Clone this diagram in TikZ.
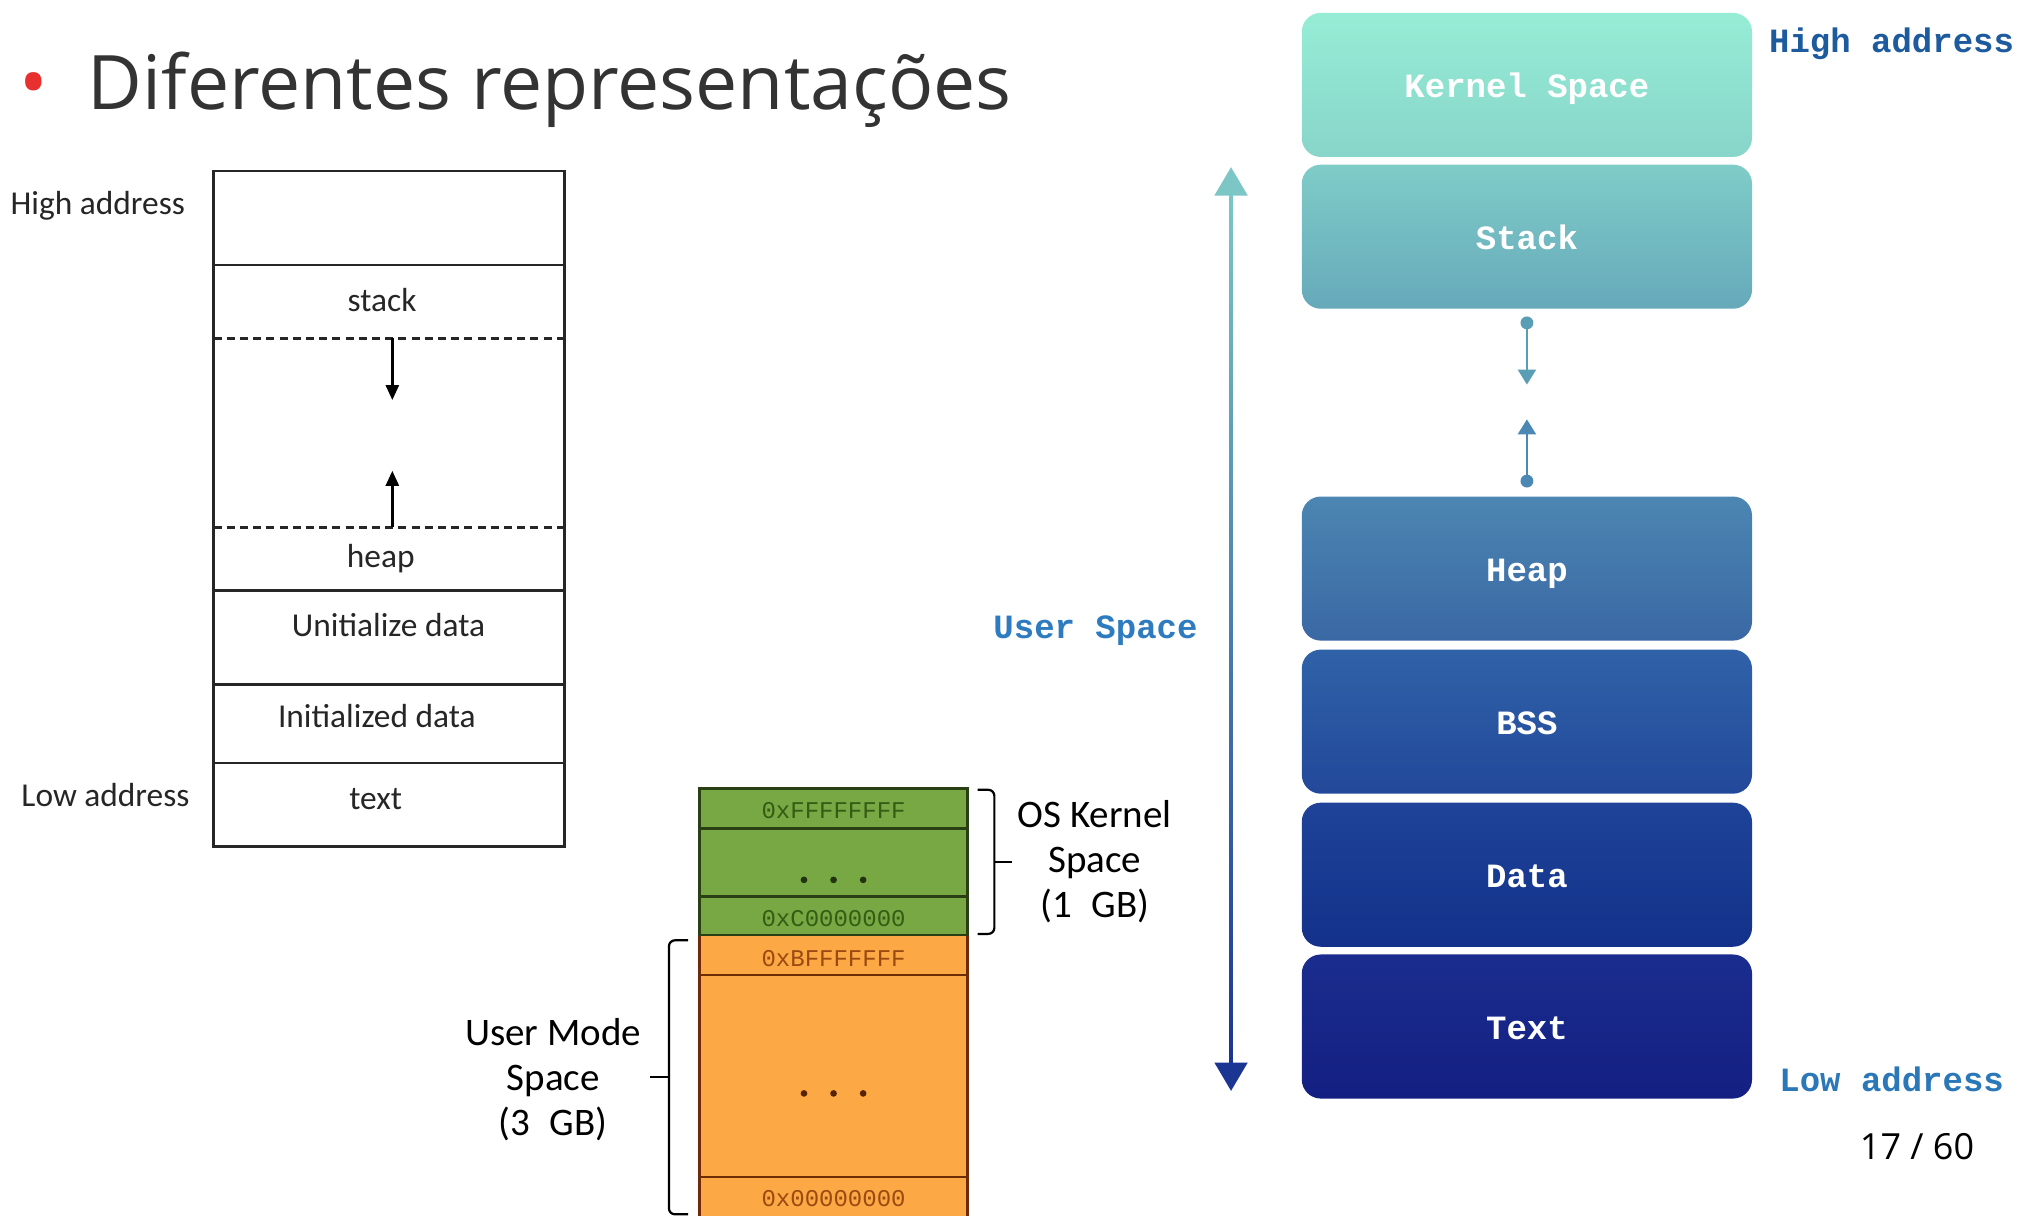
\documentclass[tikz,border=0pt]{standalone}
\usepackage{fontspec}
\setmainfont{Open Sans}
\newfontfamily\carl{Carlito}
\newfontfamily\hexf{Liberation Mono}
\newfontfamily\segf{Liberation Mono}
\usetikzlibrary{arrows.meta}
\def\upx{0.64317pt}
\definecolor{titlegray}{HTML}{333333}
\definecolor{bulletred}{HTML}{E8302E}
\definecolor{grn}{HTML}{77A843}
\definecolor{grnline}{HTML}{2A4014}
\definecolor{grntext}{HTML}{355C14}
\definecolor{org}{HTML}{FBA845}
\definecolor{orgline}{HTML}{6D2C06}
\definecolor{orgtext}{HTML}{9A4A10}
\definecolor{kA}{HTML}{96EDD5}\definecolor{kB}{HTML}{88D5CA}
\definecolor{sA}{HTML}{7FCCC8}\definecolor{sB}{HTML}{66A9BA}
\definecolor{hA}{HTML}{4C86B2}\definecolor{hB}{HTML}{3A68A4}
\definecolor{bA}{HTML}{3062A8}\definecolor{bB}{HTML}{22489A}
\definecolor{dA}{HTML}{1E4398}\definecolor{dB}{HTML}{13318A}
\definecolor{tA}{HTML}{1A2D8E}\definecolor{tB}{HTML}{141F82}
\definecolor{arrTop}{HTML}{7CC6C5}
\definecolor{arrBot}{HTML}{1A3592}
\definecolor{smallA}{HTML}{5A9EB5}
\definecolor{smallB}{HTML}{4B88B3}
\definecolor{hiaddr}{HTML}{1D5B9E}
\definecolor{usrsp}{HTML}{2E7CBF}
\definecolor{loaddr}{HTML}{2A78B8}
\tikzset{
  boxline/.style={line width=1.3pt, draw=black!85},
  dashline/.style={line width=1.3pt, draw=black!85, dash pattern=on 4pt off 2.6pt},
  lbl/.style={font={\carl\fontsize{16.7pt}{20pt}\selectfont}, text=black!85, inner sep=0},
  blackarrow/.style={line width=1.3pt, -{Triangle[length=7.5pt,width=6.5pt]}},
  grnrow/.style={fill=grn, draw=grnline, line width=1.3pt},
  orgrow/.style={fill=org, draw=orgline, line width=1.3pt},
  hexg/.style={font={\hexf\fontsize{12pt}{14pt}\selectfont}, text=grntext, inner sep=0},
  hexo/.style={font={\hexf\fontsize{12pt}{14pt}\selectfont}, text=orgtext, inner sep=0},
  bracelbl/.style={font={\carl\fontsize{19.5pt}{22.5pt}\selectfont}, align=center, inner sep=0},
  seg/.style={rounded corners=9.5pt, minimum width=350*\upx, minimum height=112*\upx, inner sep=0, text height=13pt, text depth=0pt, text=white, font={\segf\bfseries\fontsize{17pt}{20pt}\selectfont}},
  addr/.style={font={\segf\bfseries\fontsize{17pt}{20pt}\selectfont}, inner sep=0},
}
\begin{document}
\begin{tikzpicture}[x=0.64317pt,y=-0.64317pt]
\useasboundingbox (0,0) rectangle (1568,945.3);

% ---------- title ----------
\node[anchor=base west, inner sep=0, text=bulletred, font={\fontsize{38pt}{44pt}\selectfont}] (bullet) at (15,85) {•};
\node[anchor=base west, inner sep=0, text=titlegray, font={\fontsize{37.6pt}{44pt}\selectfont}] (title) at (68,85) {Diferentes representações};
\node[anchor=base east, inner sep=0, text=black, font={\fontsize{18pt}{22pt}\selectfont}] (pageno) at (1535,901) {17 / 60};

% ---------- left diagram ----------
\draw[boxline] (166,133) rectangle (439,658);
\draw[boxline] (166,206) -- (439,206);
\draw[dashline] (166,263) -- (439,263);
\draw[dashline] (166,410) -- (439,410);
\draw[boxline] (166,459) -- (439,459);
\draw[boxline] (166,532) -- (439,532);
\draw[boxline] (166,593) -- (439,593);
\coordinate (sd1) at (305,263);
\coordinate (sd2) at (305,311);
\coordinate (hu1) at (305,410);
\coordinate (hu2) at (305,366);
\draw[blackarrow] (sd1) -- (sd2);
\draw[blackarrow] (hu1) -- (hu2);
\node[lbl] (stack) at (297,233) {stack};
\node[lbl] (heap) at (296,434) {heap};
\node[lbl] (uninit) at (302,486) {Unitialize data};
\node[lbl] (init) at (293,557) {Initialized data};
\node[lbl] (text) at (292,621) {text};
\node[lbl] (hiL) at (76,160) {High address};
\node[lbl] (loL) at (82,618) {Low address};

% ---------- middle diagram ----------
\draw[orgrow] (544,915) rectangle (752,955);
\draw[orgrow] (544,758) rectangle (752,915);
\draw[orgrow] (544,727) rectangle (752,758);
\draw[grnrow] (544,697) rectangle (752,727);
\draw[grnrow] (544,644) rectangle (752,697);
\draw[grnrow] (544,613) rectangle (752,644);
\node[hexg] (hFF) at (648,630) {0xFFFFFFFF};
\node[hexg] (hC0) at (648,714) {0xC0000000};
\node[hexo] (hBF) at (648,745) {0xBFFFFFFF};
\node[hexo] (h00) at (648,932) {0x00000000};
\foreach \dx in {-23,0,23} {
  \fill[grnline!80!black] (648+\dx,684) circle (2.6);
  \fill[orgline!80!black] (648+\dx,850) circle (2.6);
}
\coordinate (kb1) at (760,614);
\coordinate (kb2) at (760,726);
\draw[line width=1.1pt, rounded corners=3pt] (kb1) -- (773,614) -- (773,726) -- (kb2);
\draw[line width=1.1pt] (773,670) -- (787,670);
\node[bracelbl] (oskern) at (851,670) {OS Kernel\\Space\\(1\,\,\,GB)};
\coordinate (ub1) at (535,731);
\draw[line width=1.1pt, rounded corners=3pt] (ub1) -- (520,731) -- (520,944) -- (535,944);
\draw[line width=1.1pt] (520,837) -- (505,837);
\node[bracelbl] (usermode) at (430,839) {User Mode\\Space\\(3\,\,\,GB)};

% ---------- right diagram ----------
\node[seg, top color=kA, bottom color=kB] (kernel) at (1187,66) {Kernel Space};
\node[seg, top color=sA, bottom color=sB] (stackR) at (1187,184) {Stack};
\node[seg, top color=hA, bottom color=hB] (heapR) at (1187,442) {Heap};
\node[seg, top color=bA, bottom color=bB] (bss) at (1187,561) {BSS};
\node[seg, top color=dA, bottom color=dB] (data) at (1187,680) {Data};
\node[seg, top color=tA, bottom color=tB] (textR) at (1187,798) {Text};

% small arrows
\coordinate (s1) at (1187,251);
\coordinate (s2) at (1187,299);
\coordinate (s3) at (1187,374);
\coordinate (s4) at (1187,326);
\fill[smallA] (s1) circle (5);
\draw[smallA, line width=1.1pt, -{Triangle[length=7.5pt,width=9pt]}] (s1) -- (s2);
\fill[smallB] (s3) circle (5);
\draw[smallB, line width=1.1pt, -{Triangle[length=7.5pt,width=9pt]}] (s3) -- (s4);

% big arrow
\coordinate (bigtop) at (957,130);
\coordinate (bigbot) at (957,848);
\shade[top color=arrTop, bottom color=arrBot] (955.6,150) rectangle (958.4,828);
\fill[arrTop] (bigtop) -- (944,152) -- (970,152) -- cycle;
\fill[arrBot] (bigbot) -- (944,826) -- (970,826) -- cycle;

\node[addr, text=hiaddr, anchor=west] (hiR) at (1375,34) {High address};
\node[addr, text=usrsp, anchor=west] (usr) at (772,490) {User Space};
\node[addr, text=loaddr, anchor=west] (loR) at (1383,839) {Low address};
\end{tikzpicture}
\end{document}
